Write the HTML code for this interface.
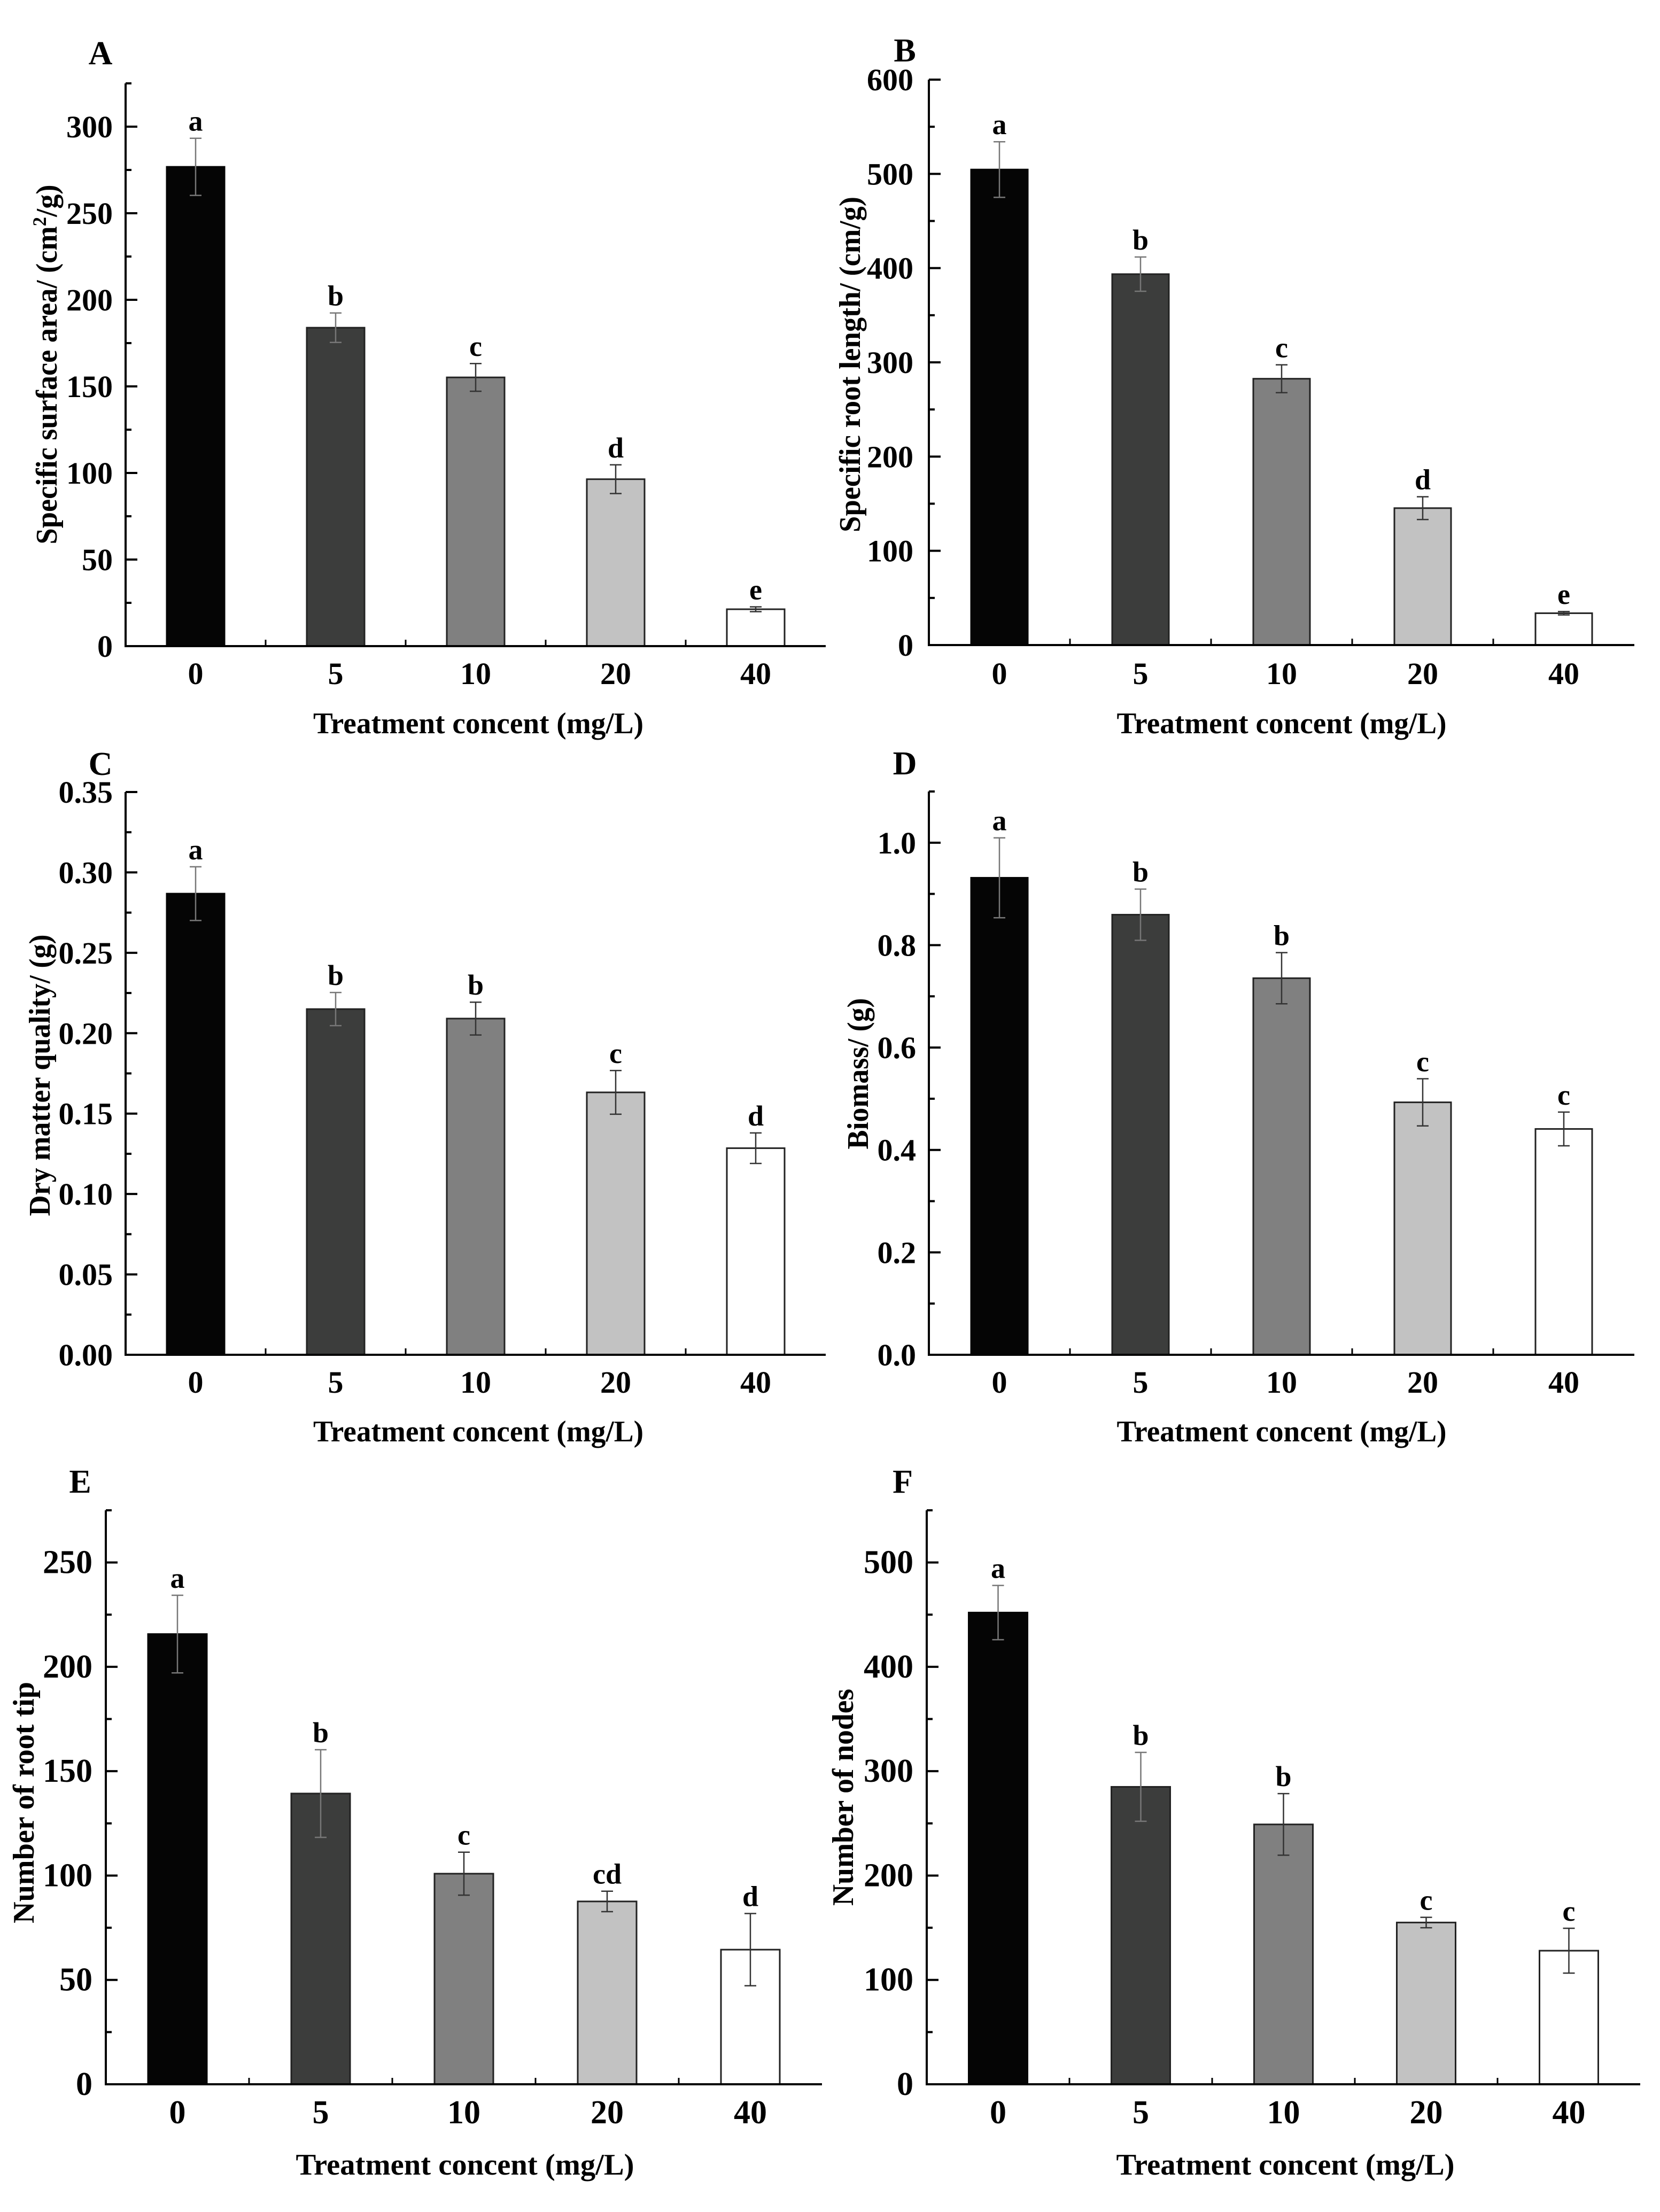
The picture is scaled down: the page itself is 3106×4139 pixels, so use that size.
<!DOCTYPE html>
<html><head><meta charset="utf-8"><style>
html,body{margin:0;padding:0;background:#fff}
svg{display:block}
text{font-family:"Liberation Serif",serif;font-weight:bold;fill:#000}
</style></head><body>
<svg id="fig" width="3106" height="4139" viewBox="0 0 3106 4139" xmlns="http://www.w3.org/2000/svg"></svg>
<script>
const categories = ["0","5","10","20","40"];
const letterA = ["a","b","c","d","e"];
const valuesA = [276.8,183.9,155.2,96.4,21.3];
const errA = [16.5,8.5,8,8.3,1.4];
const ticksA = [0,50,100,150,200,250,300];
const letterB = ["a","b","c","d","e"];
const valuesB = [504.6,393.6,282.6,145.3,33.8];
const errB = [29.5,18.2,14.8,12.1,1.8];
const ticksB = [0,100,200,300,400,500,600];
const letterC = ["a","b","b","c","d"];
const valuesC = [0.2868,0.2150,0.2091,0.1632,0.1285];
const errC = [0.0167,0.0103,0.0102,0.0136,0.0095];
const ticksC = ["0.00","0.05","0.10","0.15","0.20","0.25","0.30","0.35"];
const letterD = ["a","b","b","c","c"];
const valuesD = [0.9315,0.8594,0.7354,0.493,0.441];
const errD = [0.078,0.05,0.05,0.046,0.033];
const ticksD = ["0.0","0.2","0.4","0.6","0.8","1.0"];
const letterE = ["a","b","c","cd","d"];
const valuesE = [215.7,139.3,100.9,87.6,64.5];
const errE = [18.6,21,10.3,4.9,17.3];
const ticksE = [0,50,100,150,200,250];
const letterF = ["a","b","b","c","c"];
const valuesF = [452,285,249,155,128];
const errF = [26,33,29.5,5,21.5];
const ticksF = [0,100,200,300,400,500];

const fills = ["#050505","#3c3d3c","#808080","#c2c2c2","#ffffff"];
const NS = "http://www.w3.org/2000/svg";
const svg = document.getElementById("fig");
function mk(tag, attrs, parent){const e=document.createElementNS(NS,tag);for(const k in attrs)e.setAttribute(k,attrs[k]);(parent||svg).appendChild(e);return e;}

function panel(cfg, vals, errs, letters, ticks){
  const g = mk("g",{});
  
  
  const yS = v => cfg.y0 - (v - 0) * (cfg.y0 - cfg.yTop) / cfg.max;
  const xS = i => cfg.x0 + cfg.slot * (i + 0.5);
  const xEnd = cfg.x0 + cfg.slot*5;
  // panel letter
  const pl = mk("text",{x:cfg.lx,y:cfg.ly+20,"font-size":62,"text-anchor":"middle"},g);
  pl.textContent = cfg.id;
  
  
  // bars
  vals.forEach((v,i)=>{
    const r = mk("rect",{x:xS(i)-cfg.bw/2,y:yS(v),width:cfg.bw,height:cfg.y0-yS(v),fill:fills[i],stroke:i==0?"#050505":"#222","stroke-width":3},g);
    
    
    const e = errs[i], cx=xS(i);
    const eg = mk("g",{stroke:i<2?"#777":"#333","stroke-width":2.5},g);
    
    
    mk("line",{x1:cx,x2:cx,y1:yS(v+e),y2:yS(v-e)},eg);
    mk("line",{x1:cx-11,x2:cx+11,y1:yS(v+e),y2:yS(v+e)},eg);
    mk("line",{x1:cx-11,x2:cx+11,y1:yS(v-e),y2:yS(v-e)},eg);
    const t = mk("text",{x:cx,y:yS(v+e)-14,"font-size":54,"text-anchor":"middle"},g);
    t.textContent = letters[i];
    
    
    const xl = mk("text",{x:cx,y:cfg.xly+21,"font-size":cfg.fs,"text-anchor":"middle"},g);
    xl.textContent = categories[i];
    
    
    if(i>0) mk("line",{x1:cfg.x0+cfg.slot*i,x2:cfg.x0+cfg.slot*i,y1:cfg.y0,y2:cfg.y0-12,stroke:"#000","stroke-width":3},g);
  });
  // y ticks
  const step = cfg.max>0? (parseFloat(ticks[1])-parseFloat(ticks[0])) : 1;
  ticks.forEach(tk=>{
    const v = parseFloat(tk), y=yS(v);
    mk("line",{x1:cfg.x0,x2:cfg.x0+22,y1:y,y2:y,stroke:"#000","stroke-width":4},g);
    const hv = v+step/2;
    if(hv<=cfg.max+1e-9) mk("line",{x1:cfg.x0,x2:cfg.x0+11,y1:yS(hv),y2:yS(hv),stroke:"#000","stroke-width":4},g);
    const t = mk("text",{x:cfg.tlx,y:y+20,"font-size":cfg.fs,"text-anchor":"end"},g);
    t.textContent = tk;
    
    
  });
  // axes
  const ax = mk("path",{d:`M${cfg.x0},${cfg.yTop} V${cfg.y0} H${xEnd}`,fill:"none",stroke:"#000","stroke-width":4},g);
  
  
  // titles
  const xt = mk("text",{x:cfg.xtx,y:cfg.xty+19,"font-size":56,"text-anchor":"middle",textLength:cfg.xtw,lengthAdjust:"spacingAndGlyphs"},g);
  xt.textContent = "Treatment concent (mg/L)";
  
  
  const yt = mk("text",{x:0,y:0,"font-size":56,"text-anchor":"middle",textLength:cfg.ytw,lengthAdjust:"spacingAndGlyphs",transform:`translate(${cfg.ytx+19},${cfg.yty}) rotate(-90)`},g);
  
  
  if(cfg.sup){
    yt.appendChild(document.createTextNode(cfg.ytitle));
    const s=document.createElementNS(NS,"tspan");s.setAttribute("font-size","36");s.setAttribute("dy","-20");s.textContent="2";yt.appendChild(s);
    const r=document.createElementNS(NS,"tspan");r.setAttribute("dy","20");r.textContent=cfg.sup;yt.appendChild(r);
  } else yt.textContent = cfg.ytitle;
}

panel({id:"A",x0:235,slot:262,bw:108,y0:1209,yTop:156,max:325,lx:188,ly:100,tlx:211,fs:58,xly:1259,xtx:895,xty:1353,xtw:618,ytx:87,yty:682,ytw:673,ytitle:"Specific surface area/ (cm",sup:"/g)"},valuesA,errA,letterA,ticksA);
panel({id:"B",x0:1738,slot:264,bw:106,y0:1207,yTop:149,max:600,lx:1693,ly:95,tlx:1709,fs:58,xly:1259,xtx:2398,xty:1353,xtw:617,ytx:1590,yty:682,ytw:628,ytitle:"Specific root length/ (cm/g)"},valuesB,errB,letterB,ticksB);
panel({id:"C",x0:235,slot:262,bw:108,y0:2535,yTop:1482,max:0.35,lx:188,ly:1430,tlx:211,fs:58,xly:2585,xtx:895,xty:2678,xtw:618,ytx:74,yty:2012,ytw:527,ytitle:"Dry matter quality/ (g)"},valuesC,errC,letterC,ticksC);
panel({id:"D",x0:1738,slot:264,bw:106,y0:2535,yTop:1481,max:1.1,lx:1693,ly:1429,tlx:1714,fs:58,xly:2585,xtx:2398,xty:2678,xtw:617,ytx:1605,yty:2009,ytw:283,ytitle:"Biomass/ (g)"},valuesD,errD,letterD,ticksD);
panel({id:"E",x0:198,slot:268,bw:110,y0:3900,yTop:2826,max:275,lx:150,ly:2773,tlx:173,fs:62,xly:3952,xtx:870,xty:4050,xtw:633,ytx:44,yty:3373,ytw:452,ytitle:"Number of root tip"},valuesE,errE,letterE,ticksE);
panel({id:"F",x0:1734,slot:267,bw:110,y0:3900,yTop:2826,max:550,lx:1689,ly:2773,tlx:1709,fs:62,xly:3952,xtx:2405,xty:4050,xtw:633,ytx:1577,yty:3363,ytw:406,ytitle:"Number of nodes"},valuesF,errF,letterF,ticksF);
</script>
</body></html>
